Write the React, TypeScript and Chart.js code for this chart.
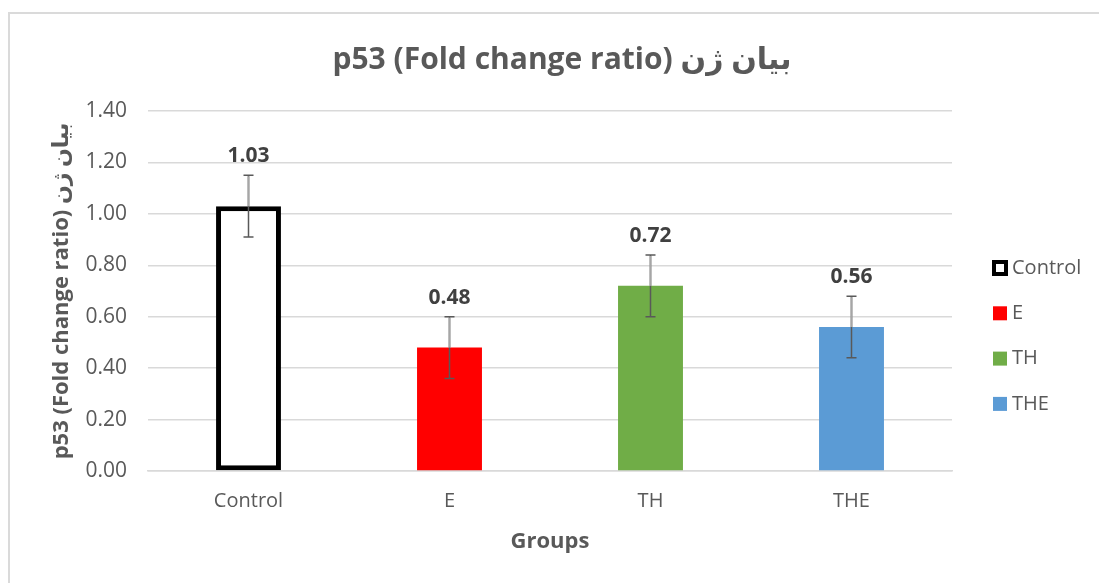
import React, { useEffect, useRef } from "react";
import { Chart, registerables } from "chart.js";

Chart.register(...registerables);

const categories = ["Control", "E", "TH", "THE"];
const values = [1.03, 0.48, 0.72, 0.56];
const errors = [0.12, 0.12, 0.12, 0.12];
const valueLabels = ["1.03", "0.48", "0.72", "0.56"];
const fillColors = ["#FFFFFF", "#FF0000", "#70AD47", "#5B9BD5"];
const edgeColors = ["#000000", "#FF0000", "#70AD47", "#5B9BD5"];
const edgeWidths = [5, 0, 0, 0];
const yMin = 0;
const yMax = 1.4;
const yStep = 0.2;
const chartTitle = "p53 (Fold change ratio) بیان ژن";
const yAxisTitle = "p53 (Fold change ratio) بیان ژن";
const xAxisTitle = "Groups";

const FONT = '"Open Sans", "DejaVu Sans", sans-serif';
const TEXT = "#595959";

const titlePlugin = {
  id: "customTitle",
  afterDraw(chart: any) {
    const ctx = chart.ctx;
    ctx.save();
    ctx.font = `bold 30px ${FONT}`;
    ctx.fillStyle = TEXT;
    ctx.textAlign = "center";
    ctx.textBaseline = "middle";
    ctx.fillText(chartTitle, 562, 60);
    ctx.restore();
  },
};

const errorBarPlugin = {
  id: "errorBars",
  afterDatasetsDraw(chart: any) {
    const ctx = chart.ctx;
    const yScale = chart.scales.y;
    const meta = chart.getDatasetMeta(0);
    ctx.save();
    meta.data.forEach((bar: any, i: number) => {
      const x = bar.x;
      const top = yScale.getPixelForValue(values[i] + errors[i]);
      const bottom = yScale.getPixelForValue(values[i] - errors[i]);
      const mid = yScale.getPixelForValue(values[i]);
      ctx.strokeStyle = "#595959";
      ctx.lineWidth = 1.5;
      ctx.beginPath();
      ctx.moveTo(x, top);
      ctx.lineTo(x, bottom);
      ctx.moveTo(x - 5, top);
      ctx.lineTo(x + 5, top);
      ctx.moveTo(x - 5, bottom);
      ctx.lineTo(x + 5, bottom);
      ctx.stroke();
      // leader line from label towards bar top
      ctx.strokeStyle = "#A6A6A6";
      ctx.lineWidth = 2;
      ctx.beginPath();
      ctx.moveTo(x, top + 1);
      ctx.lineTo(x, mid);
      ctx.stroke();
    });
    ctx.restore();
  },
};

const dataLabelPlugin = {
  id: "dataLabels",
  afterDatasetsDraw(chart: any) {
    const ctx = chart.ctx;
    const yScale = chart.scales.y;
    const meta = chart.getDatasetMeta(0);
    ctx.save();
    ctx.font = `bold 21px ${FONT}`;
    ctx.fillStyle = "#404040";
    ctx.textAlign = "center";
    ctx.textBaseline = "middle";
    meta.data.forEach((bar: any, i: number) => {
      const y = yScale.getPixelForValue(values[i] + errors[i]) - 19;
      ctx.fillText(valueLabels[i], bar.x, y);
    });
    ctx.restore();
  },
};

const legendPlugin = {
  id: "customLegend",
  afterDraw(chart: any) {
    const ctx = chart.ctx;
    ctx.save();
    ctx.font = `20px ${FONT}`;
    ctx.textAlign = "left";
    ctx.textBaseline = "middle";
    categories.forEach((name, i) => {
      const cy = 268 + i * 45.3;
      const bx = 993;
      const size = 14;
      if (edgeWidths[i] > 0) {
        ctx.fillStyle = edgeColors[i];
        ctx.fillRect(bx - 1, cy - size / 2 - 1, size + 2, size + 2);
        ctx.fillStyle = fillColors[i];
        ctx.fillRect(bx + 3, cy - size / 2 + 3, size - 6, size - 6);
      } else {
        ctx.fillStyle = fillColors[i];
        ctx.fillRect(bx, cy - size / 2, size, size);
      }
      ctx.fillStyle = TEXT;
      ctx.fillText(name, 1012, cy);
    });
    ctx.restore();
  },
};

export default function App() {
  const canvasRef = useRef<HTMLCanvasElement | null>(null);

  useEffect(() => {
    if (!canvasRef.current) return;
    const chart = new Chart(canvasRef.current, {
      type: "bar",
      data: {
        labels: categories,
        datasets: [
          {
            label: "p53",
            data: values,
            backgroundColor: fillColors,
            borderColor: edgeColors,
            borderWidth: edgeWidths,
            borderSkipped: false,
            categoryPercentage: 1,
            barPercentage: 0.323,
          },
        ],
      },
      options: {
        animation: false,
        responsive: false,
        maintainAspectRatio: false,
        devicePixelRatio: 1,
        layout: { padding: { left: 0, top: 111, right: 147, bottom: 0 } },
        plugins: {
          legend: { display: false },
          title: { display: false },
          tooltip: { enabled: false },
        },
        scales: {
          x: {
            grid: { display: false, drawTicks: false },
            border: { display: true, color: "#D9D9D9", width: 1.5 },
            ticks: {
              color: TEXT,
              font: { family: FONT, size: 20 },
              padding: 18,
            },
            title: {
              display: true,
              text: xAxisTitle,
              color: TEXT,
              font: { family: FONT, size: 22, weight: "bold" },
              padding: { top: 0, bottom: 28 },
            },
            afterFit(scale: any) {
              scale.height = 112;
            },
          },
          y: {
            min: yMin,
            max: yMax,
            grid: { color: "#D9D9D9", lineWidth: 1.5, drawTicks: false },
            border: { display: false },
            ticks: {
              stepSize: yStep,
              color: TEXT,
              font: { family: FONT, size: 21 },
              padding: 21,
              callback: (v: any) => Number(v).toFixed(2),
            },
            title: {
              display: true,
              text: yAxisTitle,
              color: TEXT,
              font: { family: FONT, size: 22, weight: "bold" },
              padding: { top: 49, bottom: 0 },
            },
            afterFit(scale: any) {
              scale.width = 148;
            },
          },
        },
      },
      plugins: [errorBarPlugin, dataLabelPlugin, titlePlugin, legendPlugin],
    } as any);
    return () => chart.destroy();
  }, []);

  return (
    <div
      style={{
        position: "fixed",
        left: 0,
        top: 0,
        width: 1099,
        height: 583,
        background: "#FFFFFF",
      }}
    >
      <div
        style={{
          position: "absolute",
          left: 8,
          top: 12,
          width: 1200,
          height: 700,
          borderLeft: "2px solid #DADADA",
          borderTop: "2px solid #DADADA",
        }}
      />
      <canvas
        ref={canvasRef}
        width={1099}
        height={583}
        style={{ position: "absolute", left: 0, top: 0, width: 1099, height: 583 }}
      />
    </div>
  );
}
